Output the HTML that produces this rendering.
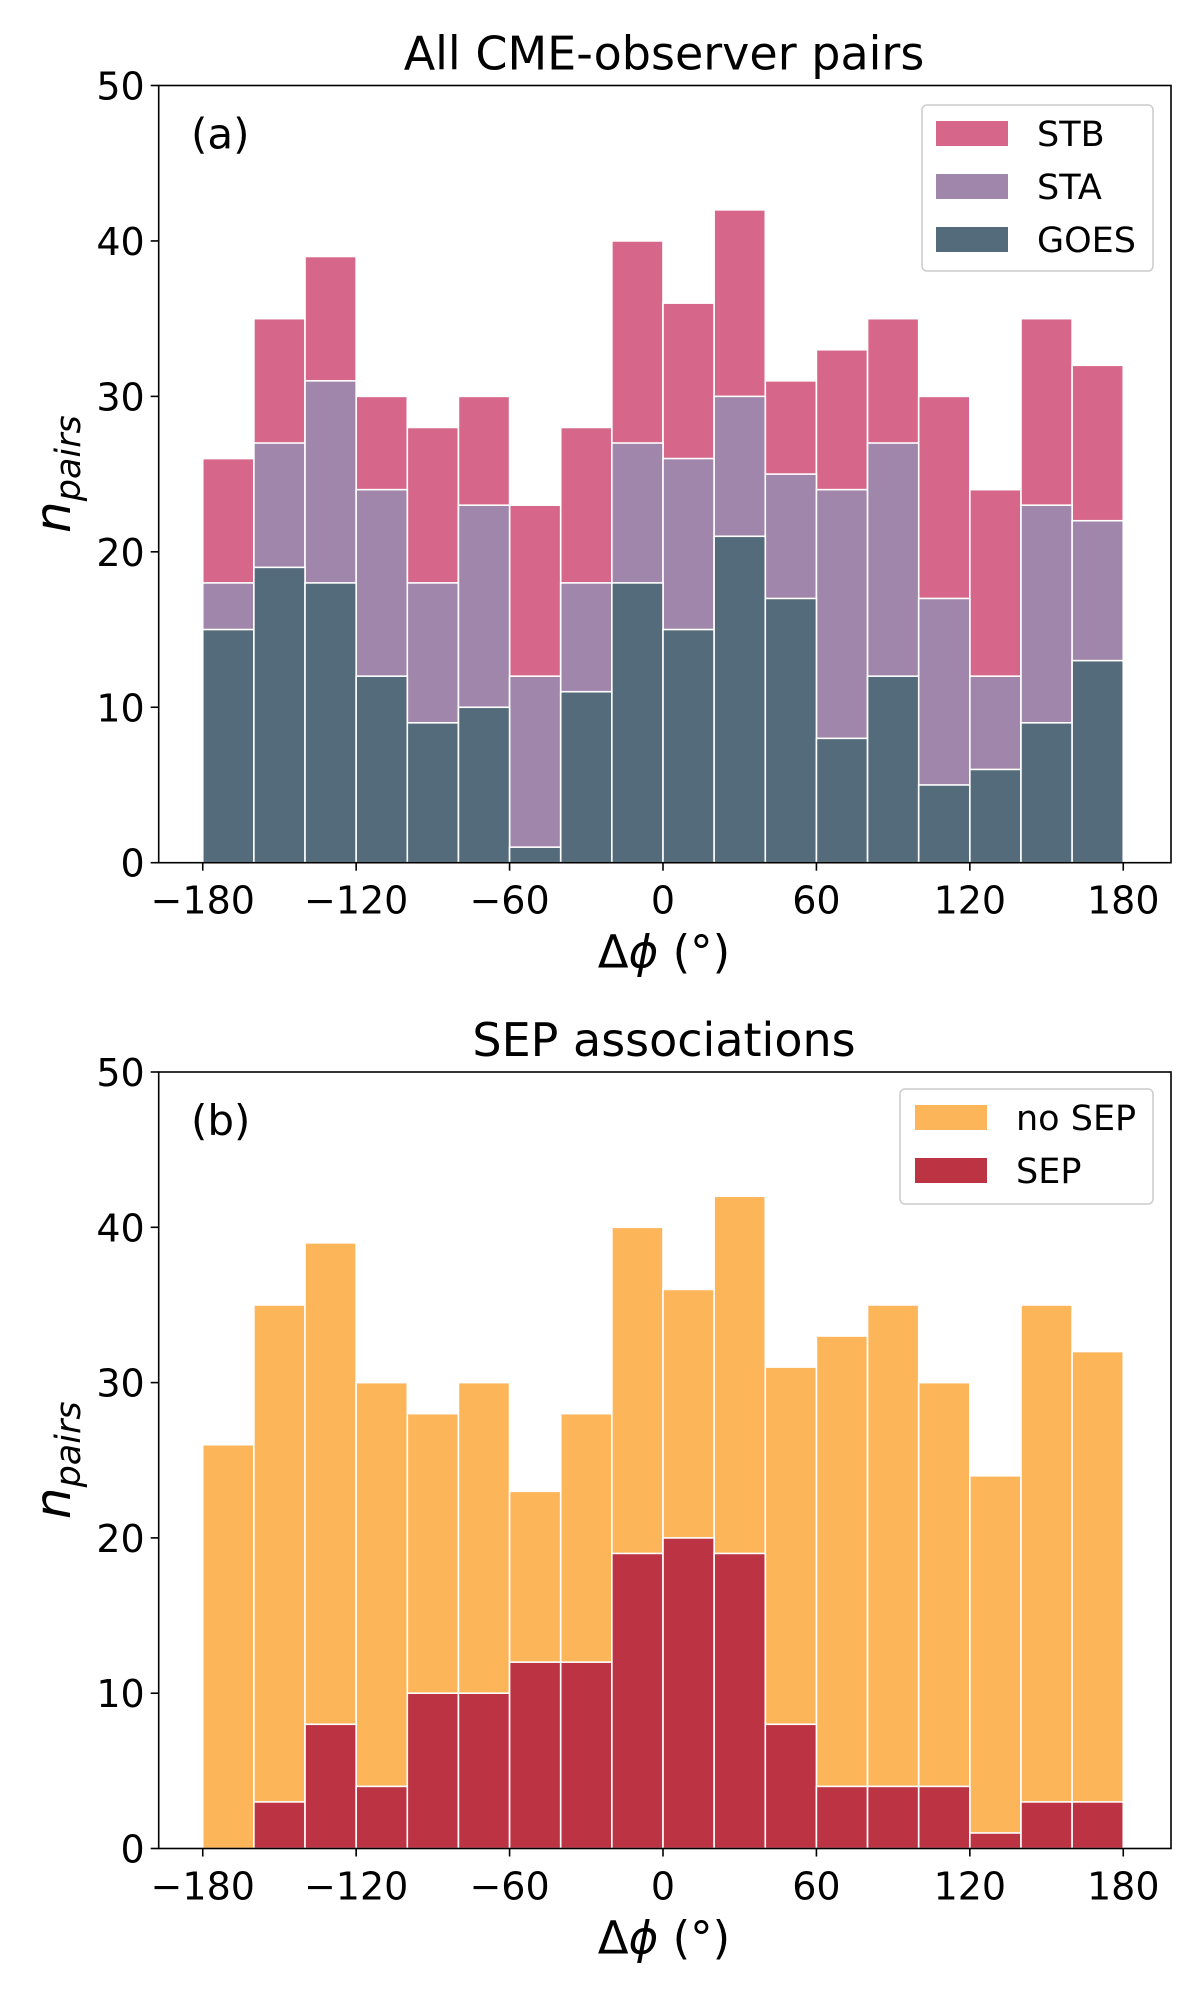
<!DOCTYPE html>
<html><head><meta charset="utf-8"><style>
html,body{margin:0;padding:0;background:#fff}
svg{display:block}
text{font-family:"DejaVu Sans","Liberation Sans",sans-serif;fill:#000}
</style></head><body>
<svg id="chart" width="1200" height="2000" viewBox="0 0 1200 2000" xmlns="http://www.w3.org/2000/svg"></svg>
<script>
const binStarts = [-180,-160,-140,-120,-100,-80,-60,-40,-20,0,20,40,60,80,100,120,140,160];
const totals = [26,35,39,30,28,30,23,28,40,36,42,31,33,35,30,24,35,32];
const staCum = [18,27,31,24,18,23,12,18,27,26,30,25,24,27,17,12,23,22];
const goes = [15,19,18,12,9,10,1,11,18,15,21,17,8,12,5,6,9,13];
const sep = [0,3,8,4,10,10,12,12,19,20,19,8,4,4,4,1,3,3];
const xTicks = [-180,-120,-60,0,60,120,180];
const xTickLabels = ["\u2212180","\u2212120","\u221260","0","60","120","180"];
const yTicks = [0,10,20,30,40,50];

const NS = "http://www.w3.org/2000/svg";
const svg = document.getElementById('chart');
function mk(tag, attrs, parent){const e=document.createElementNS(NS,tag);for(const k in attrs)e.setAttribute(k,attrs[k]);(parent||svg).appendChild(e);return e;}

const X0=158.7, X1=1171, xs = v => 663.0 + v*2.557;

function panel(top, bottom, title, tag, layers, legend, pname){
  const g = mk('g',{});
  
  
  const ys = v => bottom - v*(bottom-top)/50;
  layers.forEach(L=>{
    L.vals.forEach((v,i)=>{
      if(v<=0) return;
      const x=xs(binStarts[i]), w=xs(binStarts[i]+20)-x;
      const r = mk('rect',{x:x,y:ys(v),width:w,height:ys(0)-ys(v),fill:L.color,stroke:'#fff','stroke-width':1.6},g);
      
      
    });
  });
  const frame = mk('rect',{x:X0,y:top,width:X1-X0,height:bottom-top,fill:'none',stroke:'#000','stroke-width':1.6},g);
  
  
  xTicks.forEach((t,i)=>{
    mk('line',{x1:xs(t),x2:xs(t),y1:bottom,y2:bottom+8,stroke:'#000','stroke-width':1.6},g);
    const tx = mk('text',{x:xs(t),y:bottom+51,'font-size':38,'text-anchor':'middle'},g);
    tx.textContent = xTickLabels[i];
    
    
  });
  yTicks.forEach(t=>{
    mk('line',{x1:X0-8,x2:X0,y1:ys(t),y2:ys(t),stroke:'#000','stroke-width':1.6},g);
    const tx = mk('text',{x:X0-14,y:ys(t)+14,'font-size':38,'text-anchor':'end'},g);
    tx.textContent = t;
    
    
  });
  const ti = mk('text',{x:664,y:top-16,'font-size':46,'text-anchor':'middle'},g);
  ti.textContent = title;
  
  
  const pl = mk('text',{x:191,y:top+63,'font-size':42},g);
  pl.textContent = tag;
  
  
  const xl = mk('text',{x:664,y:bottom+105,'font-size':45,'text-anchor':'middle'},g);
  xl.innerHTML = '\u0394<tspan font-style="italic">\u03d5</tspan> (\u00b0)';
  
  
  const cy=(top+bottom)/2;
  const yl = mk('text',{x:0,y:0,'font-size':50,transform:`translate(70,${cy}) rotate(-90)`,'text-anchor':'middle'},g);
  yl.innerHTML = '<tspan font-style="italic">n</tspan><tspan font-size="35" dy="10" font-style="italic">pairs</tspan>';
  
  
  const lg = mk('g',{},g);
  
  
  mk('rect',{x:legend.x,y:legend.y,width:legend.w,height:legend.h,rx:5,fill:'#fff',stroke:'#ccc','stroke-width':1.5},lg);
  legend.items.forEach((it,i)=>{
    const cyy = legend.y+28+i*53;
    mk('rect',{x:legend.px,y:cyy-12,width:72,height:25,fill:it.color},lg);
    const t = mk('text',{x:legend.tx,y:cyy+13,'font-size':35},lg);
    t.textContent = it.label;
    
    
  });
}

panel(85.5, 862.7, 'All CME-observer pairs', '(a)',
  [{name:'stb',vals:totals,color:'#d6678a'},{name:'sta',vals:staCum,color:'#9f86aa'},{name:'goes',vals:goes,color:'#546b7c'}],
  {x:922,y:105,w:231,h:166,px:936,tx:1037,items:[{label:'STB',color:'#d6678a'},{label:'STA',color:'#9f86aa'},{label:'GOES',color:'#546b7c'}]},
  'panel-a');
panel(1072, 1848.5, 'SEP associations', '(b)',
  [{name:'nosep',vals:totals,color:'#fdb55a'},{name:'sep',vals:sep,color:'#bc3444'}],
  {x:900,y:1089,w:253,h:115,px:915,tx:1016,items:[{label:'no SEP',color:'#fdb55a'},{label:'SEP',color:'#bc3444'}]},
  'panel-b');
</script>
</body></html>
